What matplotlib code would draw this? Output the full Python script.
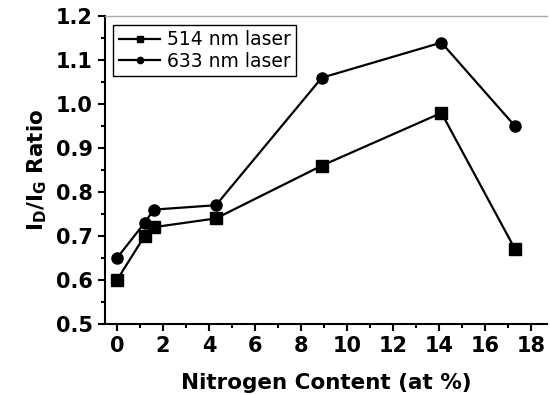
import matplotlib.pyplot as plt

# nitrogen content (at %) and I_D/I_G ratio for the two excitation lines
nitrogen = [0, 1.2, 1.6, 4.3, 8.9, 14.1, 17.3]
ratio_514 = [0.60, 0.70, 0.72, 0.74, 0.86, 0.98, 0.67]
ratio_633 = [0.65, 0.73, 0.76, 0.77, 1.06, 1.14, 0.95]

plt.rcParams['font.family'] = ['DejaVu Sans']

fig = plt.figure(figsize=(5.5, 3.95), dpi=100)
ax = fig.add_axes([0.191, 0.18, 0.804, 0.779])

ax.plot(nitrogen, ratio_514, color='black', lw=1.6, marker='s', ms=8,
        label='514 nm laser')
ax.plot(nitrogen, ratio_633, color='black', lw=1.6, marker='o', ms=8,
        label='633 nm laser')

ax.set_xlim(-0.52, 18.7)
ax.set_ylim(0.5, 1.2)
ax.set_xticks(range(0, 19, 2))
ax.set_xticks(range(1, 19, 2), minor=True)
ax.set_yticks([0.5, 0.6, 0.7, 0.8, 0.9, 1.0, 1.1, 1.2])
ax.set_yticks([0.55, 0.65, 0.75, 0.85, 0.95, 1.05, 1.15], minor=True)
ax.yaxis.set_major_formatter(plt.FormatStrFormatter('%.1f'))

ax.tick_params(which='both', direction='out', width=1.5, labelsize=15, pad=4)
ax.tick_params(which='major', length=5)
ax.tick_params(which='minor', length=3)
for lbl in ax.get_xticklabels() + ax.get_yticklabels():
    lbl.set_fontweight('bold')

ax.spines['right'].set_visible(False)
ax.spines['top'].set_color('#aaaaaa')
ax.spines['top'].set_linewidth(1)
ax.spines['left'].set_linewidth(1.5)
ax.spines['bottom'].set_linewidth(1.5)

ax.set_xlabel('Nitrogen Content (at %)', fontsize=15.5, fontweight='bold',
              labelpad=12)
ax.set_ylabel(r'I$_\mathregular{D}$/I$_\mathregular{G}$ Ratio', fontsize=15.5,
              fontweight='bold', labelpad=5)

leg = ax.legend(loc='upper left', fontsize=13.5, fancybox=False,
                edgecolor='black', handlelength=2.2, handletextpad=0.35,
                borderaxespad=0.45, borderpad=0.3, labelspacing=0.12,
                framealpha=1)
leg.get_frame().set_linewidth(1)
for h in leg.legend_handles:
    h.set_markersize(4.5)

fig.savefig('out.png', dpi=100)
